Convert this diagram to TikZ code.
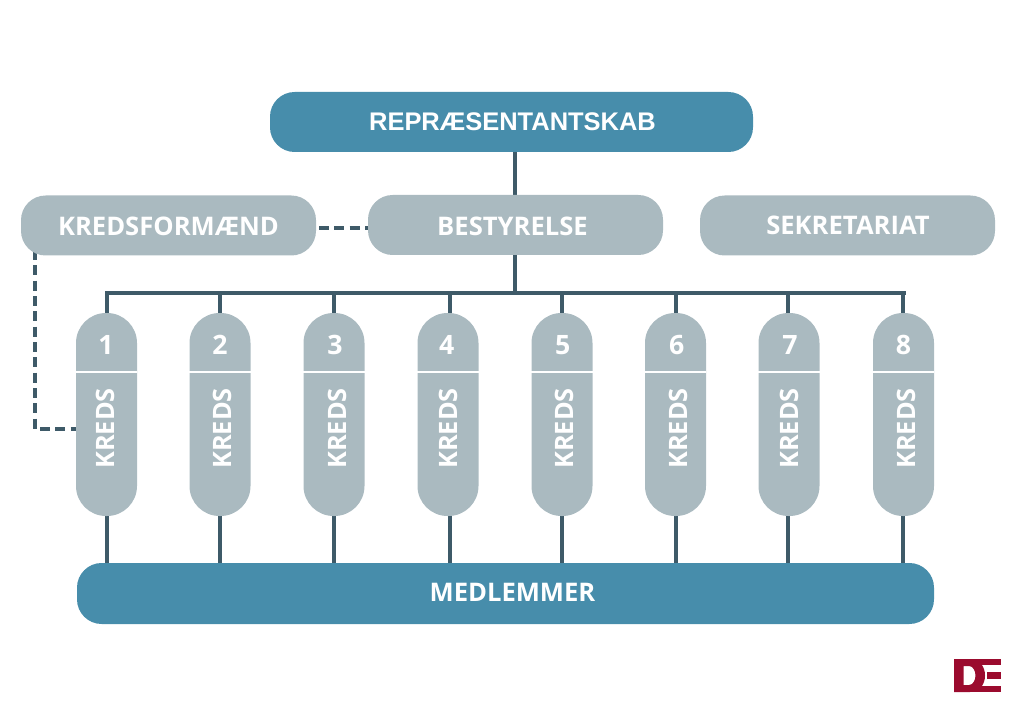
\documentclass[tikz,border=0pt]{standalone}
\usepackage{fontspec}
\setmainfont{Open Sans}[BoldFont={Open Sans Bold}]
\newfontfamily\toplabelfont{Liberation Sans}
\usetikzlibrary{backgrounds}
\definecolor{tealbox}{HTML}{478DAB}
\definecolor{greybox}{HTML}{AABAC0}
\definecolor{linecol}{HTML}{3E5A68}
\definecolor{logored}{HTML}{9B0B2E}
\tikzset{
  box/.style={rectangle,rounded corners=18.5pt,inner sep=0pt,text=white,
    font=\fontsize{19.2}{22}\selectfont\bfseries},
  wide/.style={box,minimum width=221.25pt,minimum height=45pt,fill=greybox},
  pill/.style={box,rounded corners=22.5pt,minimum width=45.75pt,minimum height=152.25pt,fill=greybox},
  solidline/.style={draw=linecol,line width=3pt},
  dashline/.style={draw=linecol,line width=3pt,dash pattern=on 7.5pt off 4pt},
  label/.style={inner sep=0pt,text=white,font=\fontsize{19.2}{22}\selectfont\bfseries}
}
\begin{document}
\begin{tikzpicture}[x=0.75pt,y=-0.75pt]
        \useasboundingbox (0,0) rectangle (1024,720);
        % top boxes
        \node[box,fill=tealbox,minimum width=362.25pt,minimum height=45pt] (repr) at (511.5,122) {};
        \node[label,font=\fontsize{19.1}{22}\selectfont\toplabelfont\bfseries] (reprtext) at (512.5,122) {REPRÆSENTANTSKAB};
        \node[wide] (kredsf) at (168.5,225.5) {};
        \node[label] (kredsftext) at (168.5,226) {KREDSFORMÆND};
        \node[wide] (best) at (515.5,225) {};
        \node[label] (besttext) at (512.5,226) {BESTYRELSE};
        \node[wide] (sekr) at (847.5,225.5) {};
        \node[label] (sekrtext) at (848,225.5) {SEKRETARIAT};
        \node[box,fill=tealbox,minimum width=642.75pt,minimum height=45.75pt] (medl) at (505.5,593.5) {};
        \node[label] (medltext) at (512.5,592.5) {MEDLEMMER};
        % kreds columns
        \foreach \i/\x/\n/\t in {1/106.5/106/105,2/220/220/222,3/334/335/337,4/448/446.7/448.5,5/562/562.7/564,6/675.5/676.7/678,7/789/790/789.5,8/903.5/903.5/906} {
          \node[pill] (kreds\i) at (\x,414.5) {};
          \node[label,font=\fontsize{20}{22}\selectfont\bfseries] (num\i) at (\n,345) {\i};
          \node[label,font=\fontsize{19}{22}\selectfont\bfseries,rotate=90] (txt\i) at (\t,428.5) {KREDS};
          \draw[white,line width=1.2pt] (kreds\i.west |- 0,372) -- (kreds\i.east |- 0,372);
        }
        \coordinate (busl) at (105,292.5);
        \coordinate (busr) at (905.5,292.5);
        \coordinate (dashstart) at (319,228);
        \coordinate (dashend) at (368,228);
        \coordinate (dashtop) at (35,250);
        \coordinate (dashcorner) at (35,429);
        \coordinate (dashright) at (137,429);
        \begin{pgfonlayer}{background}
          \draw[solidline] (repr.south -| 515,0) -- (best.north -| 515,0);
          \draw[solidline] (best.south -| 515,0) -- (515,292.5);
          \draw[solidline] (busl) -- (busr);
          \foreach \i/\x in {1/107,2/220,3/334,4/450,5/562,6/675.5,7/788,8/903} {
            \draw[solidline] (\x,0 |- busl) -- (\x,0 |- kreds\i.north);
            \draw[solidline] (\x,0 |- kreds\i.south) -- (\x,0 |- medl.north);
          }
          \draw[dashline] (dashstart) -- (dashend);
          \draw[dashline] (dashtop) -- (dashcorner) -- (dashright);
        \end{pgfonlayer}
        % logo
        \fill[logored,even odd rule] (954,659) -- (970,659) .. controls (980,659) and (985,667) .. (985,675.5) .. controls (985,684) and (980,692) .. (970,692) -- (954,692) -- cycle
          (963.5,666) -- (963.5,685) -- (969,685) .. controls (973,685) and (975.5,680) .. (975.5,675.5) .. controls (975.5,671) and (973,666) .. (969,666) -- cycle;
        \fill[logored] (970,659) rectangle (1001,665);
        \fill[logored] (987,672) rectangle (1001,679);
        \fill[logored] (970,686) rectangle (1001,692);
      \end{tikzpicture}
\end{document}
